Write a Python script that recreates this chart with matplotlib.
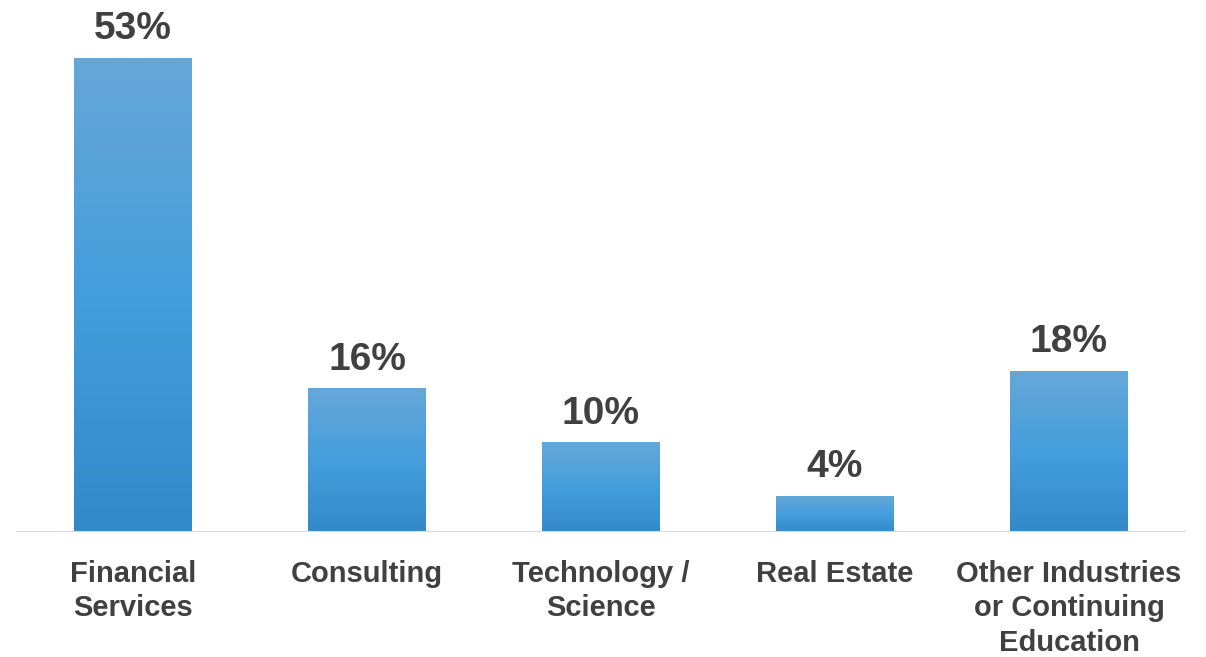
import numpy as np
import matplotlib.pyplot as plt
from matplotlib.colors import LinearSegmentedColormap

categories = ["Financial\nServices", "Consulting", "Technology /\nScience",
              "Real Estate", "Other Industries\nor Continuing\nEducation"]
values = [53, 16, 10, 4, 18]
labels = ["53%", "16%", "10%", "4%", "18%"]

plt.rcParams['font.family'] = ['Liberation Sans', 'DejaVu Sans']
text_col = '#404040'

fig = plt.figure(figsize=(12.06, 6.57), dpi=100)
ax = fig.add_axes([16/1206, 125/657, 1170/1206, 532/657])

x = np.arange(len(values))
width = 0.504
bars = ax.bar(x, values, width=width, color='none', edgecolor='none')

# vertical gradient in each bar
cmap = LinearSegmentedColormap.from_list('blu', ['#3489c9', '#449edc', '#66a7d8'])
grad = np.linspace(0, 1, 256).reshape(-1, 1)
for b in bars:
    x0 = b.get_x()
    h = b.get_height()
    ax.imshow(grad, cmap=cmap, origin='lower', aspect='auto',
              extent=[x0, x0 + b.get_width(), 0, h], zorder=2)

for xi, v, lab in zip(x, values, labels):
    ax.annotate(lab, (xi, v), xytext=(0, 11), textcoords='offset pixels',
                ha='center', va='bottom', fontsize=28, fontweight='bold',
                color=text_col)

ax.set_xlim(-0.5, len(values) - 0.5)
ax.set_ylim(0, 532 / 8.94)
ax.axhline(0, color='#d9d9d9', lw=1.5, zorder=3)

ax.set_xticks(x)
ax.set_xticklabels(categories, fontsize=21, fontweight='bold', color=text_col,
                   linespacing=1.3, va='top')
ax.tick_params(axis='x', length=0, pad=20)
ax.set_yticks([])
for s in ax.spines.values():
    s.set_visible(False)

fig.savefig('out.png', dpi=100)
